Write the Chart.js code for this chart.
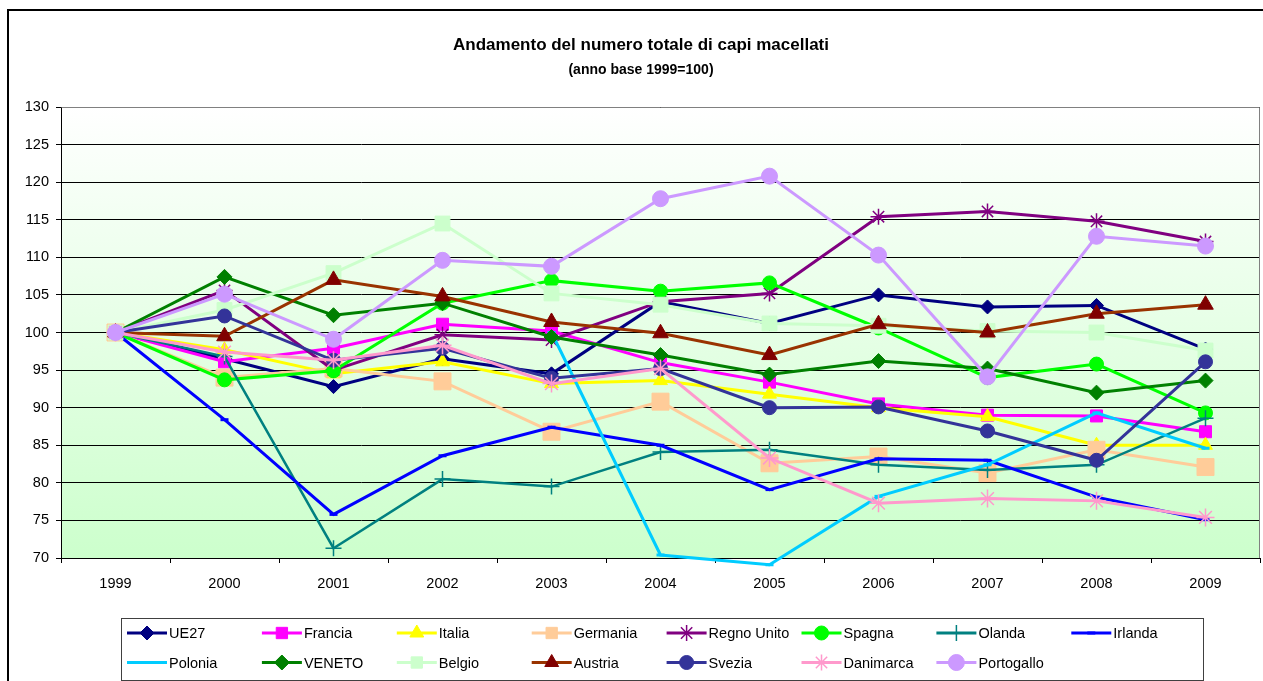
<!DOCTYPE html>
<html lang="it">
<head>
<meta charset="utf-8">
<title>Andamento del numero totale di capi macellati</title>
<script src="https://cdn.jsdelivr.net/npm/chart.js@4.4.1/dist/chart.umd.min.js"></script>
<style>
  html, body { margin: 0; padding: 0; background: #fff; }
  #wrap { width: 1263px; height: 681px; }
</style>
</head>
<body>
<div id="wrap"><canvas id="chart" width="1263" height="681"></canvas></div>
<script>
// indici annui, 1999 = 100
const years = ['1999', '2000', '2001', '2002', '2003', '2004', '2005', '2006', '2007', '2008', '2009'];
const yTicks = [70, 75, 80, 85, 90, 95, 100, 105, 110, 115, 120, 125, 130];

const ue27       = [100, 96.5, 92.8, 96.5, 94.5, 104.1, 101.2, 105.0, 103.4, 103.6, 97.8];
const francia    = [100, 96.1, 97.9, 101.1, 100.2, 96.0, 93.4, 90.5, 89.0, 88.9, 86.8];
const italia     = [100, 97.7, 94.5, 96.1, 93.2, 93.6, 91.8, 90.0, 88.8, 85.0, 85.0];
const germania   = [100, 94.0, 95.2, 93.5, 86.8, 90.8, 82.6, 83.5, 81.3, 84.4, 82.1];
const regnoUnito = [100, 105.6, 95.0, 99.7, 99.0, 104.1, 105.2, 115.4, 116.1, 114.8, 112.1];
const spagna     = [100, 93.7, 94.9, 103.9, 106.9, 105.5, 106.6, 100.6, 94.0, 95.8, 89.3];
const olanda     = [100, 96.8, 71.3, 80.5, 79.5, 84.1, 84.4, 82.4, 81.7, 82.4, 88.6];
const irlanda    = [100, 88.4, 75.8, 83.6, 87.4, 85.0, 79.1, 83.2, 83.0, 78.1, 75.1];
const polonia    = [100, null, null, null, 100, 70.4, 69.1, 78.2, 82.4, 89.3, 84.6];
const veneto     = [100, 107.4, 102.3, 103.9, 99.4, 97.0, 94.4, 96.2, 95.2, 92.0, 93.6];
const belgio     = [100, 103.0, 107.9, 114.5, 105.2, 103.7, 101.2, 100.9, 100.2, 100.0, 97.6];
const austria    = [100, 99.5, 107.0, 104.8, 101.4, 99.9, 97.0, 101.1, 100.0, 102.5, 103.7];
const svezia     = [100, 102.2, 96.3, 97.9, 93.9, 95.2, 90.0, 90.1, 86.9, 83.0, 96.1];
const danimarca  = [100, 97.4, 96.3, 98.3, 93.2, 95.2, 83.3, 77.3, 77.9, 77.6, 75.4];
const portogallo = [100, 105.1, 99.1, 109.6, 108.8, 117.8, 120.8, 110.3, 94.1, 112.8, 111.5];

// nome, dati, colore linea, colore marker, stile marker, raggio
const series = [
  ['UE27',        ue27,       '#000080', '#000080', 'rectRot',  7],
  ['Francia',     francia,    '#FF00FF', '#FF00FF', 'rect',     8.5],
  ['Italia',      italia,     '#FFFF00', '#FFFF00', 'triangle', 8],
  ['Germania',    germania,   '#FFCC99', '#FFCC99', 'rect',     12],
  ['Regno Unito', regnoUnito, '#800080', '#800080', 'star',     8],
  ['Spagna',      spagna,     '#00FF00', '#00FF00', 'circle',   7],
  ['Olanda',      olanda,     '#008080', '#008080', 'cross',    8],
  ['Irlanda',     irlanda,    '#0000FF', '#0000FF', 'line',     4],
  ['Polonia',     polonia,    '#00CCFF', '#00CCFF', 'line',     4],
  ['VENETO',      veneto,     '#008000', '#008000', 'rectRot',  7.5],
  ['Belgio',      belgio,     '#CCFFCC', '#CCFFCC', 'rect',     10.5],
  ['Austria',     austria,    '#993300', '#800000', 'triangle', 9],
  ['Svezia',      svezia,     '#333399', '#333399', 'circle',   7],
  ['Danimarca',   danimarca,  '#FF99CC', '#FF99CC', 'star',     9],
  ['Portogallo',  portogallo, '#CC99FF', '#CC99FF', 'circle',   8]
];

const FONT = 'Arial, "Liberation Sans", sans-serif';
const strokeOnly = ['star', 'cross', 'line'];

const datasets = series.map(([label, data, line, mark, style, r], i) => ({
  label,
  data,
  borderColor: line,
  borderWidth: label === 'Olanda' ? 2.5 : 3,
  pointStyle: style,
  pointRadius: r,
  pointHoverRadius: r,
  pointBackgroundColor: mark,
  pointBorderColor: mark,
  pointBorderWidth: strokeOnly.includes(style) ? (style === 'line' ? 3 : 1.5) : 1,
  spanGaps: false,
  tension: 0,
  clip: false,
  order: series.length - 1 - i
}));

// sfondo sfumato dell'area del grafico e cornice grigia
const plotBackground = {
  id: 'plotBackground',
  beforeDraw(chart) {
    const { ctx, chartArea: a } = chart;
    const g = ctx.createLinearGradient(0, a.top, 0, a.bottom);
    g.addColorStop(0, '#FFFFFF');
    g.addColorStop(1, '#CCFFCC');
    ctx.save();
    ctx.fillStyle = '#FFFFFF';
    ctx.fillRect(0, 0, chart.width, chart.height);
    ctx.fillStyle = g;
    ctx.fillRect(a.left, a.top, a.right - a.left, a.bottom - a.top);
    // bordo esterno
    ctx.strokeStyle = '#000';
    ctx.lineWidth = 2;
    ctx.beginPath();
    ctx.moveTo(8, chart.height);
    ctx.lineTo(8, 10);
    ctx.lineTo(chart.width + 2, 10);
    ctx.stroke();
    ctx.restore();
  },
  beforeDatasetsDraw(chart) {
    const { ctx, chartArea: a } = chart;
    ctx.save();
    ctx.strokeStyle = '#808080';
    ctx.lineWidth = 1;
    ctx.beginPath();
    ctx.moveTo(Math.round(a.left) + 0.5, Math.round(a.top) + 0.5);
    ctx.lineTo(Math.round(a.right) - 0.5, Math.round(a.top) + 0.5);
    ctx.lineTo(Math.round(a.right) - 0.5, Math.round(a.bottom));
    ctx.stroke();
    ctx.restore();
  }
};

// titolo e sottotitolo
const titles = {
  id: 'titles',
  afterDraw(chart) {
    const { ctx } = chart;
    const cx = 641;
    ctx.save();
    ctx.fillStyle = '#000';
    ctx.textAlign = 'center';
    ctx.textBaseline = 'middle';
    ctx.font = 'bold 17px ' + FONT;
    ctx.fillText('Andamento del numero totale di capi macellati', cx, 45);
    ctx.font = 'bold 14px ' + FONT;
    ctx.fillText('(anno base 1999=100)', cx, 70);
    ctx.restore();
  }
};

// legenda a colonne fisse sotto il grafico
const boxLegend = {
  id: 'boxLegend',
  afterDraw(chart) {
    const { ctx } = chart;
    const box = { x: 121, y: 618, w: 1082, h: 62 };
    ctx.save();
    ctx.fillStyle = '#FFFFFF';
    ctx.fillRect(box.x, box.y, box.w, box.h);
    ctx.strokeStyle = '#404040';
    ctx.lineWidth = 1;
    ctx.strokeRect(box.x + 0.5, box.y + 0.5, box.w, box.h);
    ctx.font = '14.5px ' + FONT;
    ctx.textBaseline = 'middle';
    ctx.textAlign = 'left';
    chart.data.datasets.forEach((ds, i) => {
      const col = i % 8;
      const row = Math.floor(i / 8);
      const x0 = 127 + col * 134.9;
      const y = 633 + row * 29.5;
      ctx.strokeStyle = ds.borderColor;
      ctx.lineWidth = 3;
      ctx.beginPath();
      ctx.moveTo(x0, y);
      ctx.lineTo(x0 + 40, y);
      ctx.stroke();
      ctx.fillStyle = ds.pointBackgroundColor;
      ctx.strokeStyle = ds.pointBorderColor;
      ctx.lineWidth = ds.pointBorderWidth;
      Chart.helpers.drawPoint(ctx, {
        pointStyle: ds.pointStyle,
        radius: Math.min(ds.pointRadius, 8),
        rotation: 0,
        borderWidth: ds.pointBorderWidth
      }, x0 + 20, y);
      ctx.fillStyle = '#000';
      ctx.fillText(ds.label, x0 + 42, y + 1);
    });
    ctx.restore();
  }
};

new Chart(document.getElementById('chart'), {
  type: 'line',
  data: { labels: years, datasets },
  options: {
    responsive: false,
    animation: false,
    devicePixelRatio: 1,
    layout: { autoPadding: false, padding: { top: 107, right: 3, bottom: 83, left: 0 } },
    plugins: {
      legend: { display: false },
      title: { display: false },
      tooltip: { enabled: false }
    },
    scales: {
      x: {
        offset: true,
        afterFit: s => { s.height = 40; },
        grid: {
          offset: true,
          drawOnChartArea: false,
          color: '#000',
          tickLength: 5
        },
        border: { color: '#000', width: 1 },
        ticks: {
          color: '#000',
          padding: 12,
          maxRotation: 0,
          font: { family: FONT, size: 14.5 }
        }
      },
      y: {
        min: 70,
        max: 130,
        afterFit: s => { s.width = 61; },
        afterBuildTicks: s => { s.ticks = yTicks.map(v => ({ value: v })); },
        grid: { color: '#000', lineWidth: 1, tickLength: 5 },
        border: { color: '#000', width: 1 },
        ticks: {
          color: '#000',
          padding: 7,
          font: { family: FONT, size: 14.5 }
        }
      }
    }
  },
  plugins: [plotBackground, titles, boxLegend]
});
</script>
</body>
</html>
